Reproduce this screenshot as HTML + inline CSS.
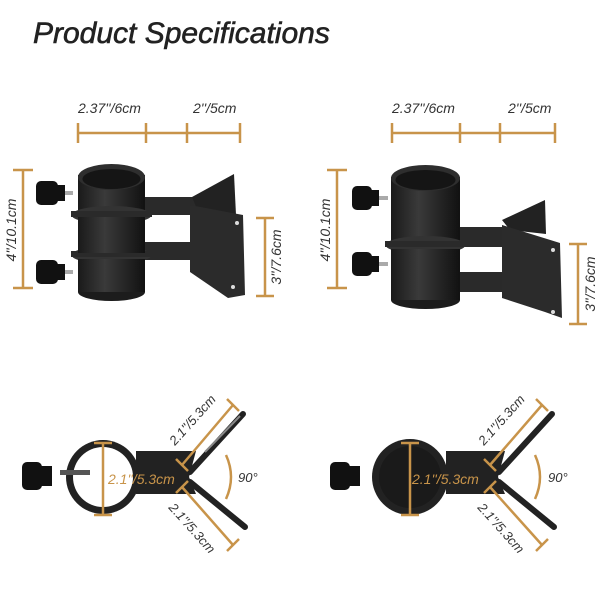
<!DOCTYPE html>
<html><head><meta charset="utf-8"><style>
html,body{margin:0;padding:0;background:#fff;width:600px;height:600px;overflow:hidden}
svg{display:block}
text{font-family:"Liberation Sans",sans-serif;font-style:italic}
</style></head><body>
<svg width="600" height="600" viewBox="0 0 600 600" xmlns="http://www.w3.org/2000/svg">
<defs>
<linearGradient id="cyl" x1="0" x2="1"><stop offset="0" stop-color="#1a1a1a"/><stop offset="0.4" stop-color="#3a3a3a"/><stop offset="1" stop-color="#111"/></linearGradient>
</defs>
<text x="33" y="43" font-size="30" fill="#222" stroke="#222" stroke-width="0.6">Product Specifications</text>

<!-- TOP LEFT -->
<g stroke="#c8944a" stroke-width="2.5" fill="none">
<line x1="78" y1="133" x2="240" y2="133"/>
<line x1="78" y1="123" x2="78" y2="143"/><line x1="146" y1="123" x2="146" y2="143"/>
<line x1="187" y1="123" x2="187" y2="143"/><line x1="240" y1="123" x2="240" y2="143"/>
<line x1="23" y1="170" x2="23" y2="288"/><line x1="13" y1="170" x2="33" y2="170"/><line x1="13" y1="288" x2="33" y2="288"/>
<line x1="265" y1="218" x2="265" y2="296"/><line x1="256" y1="218" x2="274" y2="218"/><line x1="256" y1="296" x2="274" y2="296"/>
</g>
<text x="78" y="113" font-size="14" fill="#333">2.37''/6cm</text>
<text x="193" y="113" font-size="14" fill="#333">2''/5cm</text>
<text transform="translate(16,230) rotate(-90)" text-anchor="middle" font-size="14" fill="#333">4''/10.1cm</text>
<text transform="translate(281,257) rotate(-90)" text-anchor="middle" font-size="14" fill="#333">3''/7.6cm</text>
<rect x="140" y="197" width="60" height="18" fill="#2a2a2a"/>
<rect x="140" y="242" width="60" height="18" fill="#2a2a2a"/>
<polygon points="192,197 234,174 236,215 205,228" fill="#222"/>
<polygon points="190,205 243,215 245,295 228,298 190,272" fill="#2b2b2b"/>
<circle cx="237" cy="223" r="2" fill="#ddd"/><circle cx="233" cy="287" r="2" fill="#ddd"/>
<rect x="78" y="175" width="67" height="117" fill="url(#cyl)"/>
<ellipse cx="111.5" cy="292" rx="33.5" ry="9" fill="#1c1c1c"/>
<ellipse cx="111.5" cy="215" rx="40" ry="9" fill="#333"/><rect x="71" y="211" width="81" height="6" fill="#2a2a2a"/>
<ellipse cx="111.5" cy="255" rx="40" ry="9" fill="#333"/><rect x="71" y="251" width="81" height="6" fill="#2a2a2a"/>
<rect x="78" y="217" width="67" height="36" fill="url(#cyl)"/><rect x="78" y="259" width="67" height="33" fill="url(#cyl)"/>
<ellipse cx="111.5" cy="177" rx="33.5" ry="13" fill="#2e2e2e"/>
<ellipse cx="111.5" cy="179" rx="29" ry="10" fill="#151515"/>
<g fill="#111"><rect x="36" y="181" width="22" height="24" rx="5"/><rect x="55" y="185" width="10" height="16"/>
<rect x="36" y="260" width="22" height="24" rx="5"/><rect x="55" y="264" width="10" height="16"/></g>
<rect x="65" y="191" width="8" height="4" fill="#aaa"/><rect x="65" y="270" width="8" height="4" fill="#aaa"/>

<!-- TOP RIGHT -->
<g stroke="#c8944a" stroke-width="2.5" fill="none">
<line x1="392" y1="133" x2="555" y2="133"/>
<line x1="392" y1="123" x2="392" y2="143"/><line x1="460" y1="123" x2="460" y2="143"/>
<line x1="500" y1="123" x2="500" y2="143"/><line x1="555" y1="123" x2="555" y2="143"/>
<line x1="337" y1="170" x2="337" y2="288"/><line x1="327" y1="170" x2="347" y2="170"/><line x1="327" y1="288" x2="347" y2="288"/>
<line x1="578" y1="244" x2="578" y2="324"/><line x1="569" y1="244" x2="587" y2="244"/><line x1="569" y1="324" x2="587" y2="324"/>
</g>
<text x="392" y="113" font-size="14" fill="#333">2.37''/6cm</text>
<text x="508" y="113" font-size="14" fill="#333">2''/5cm</text>
<text transform="translate(330,230) rotate(-90)" text-anchor="middle" font-size="14" fill="#333">4''/10.1cm</text>
<text transform="translate(595,284) rotate(-90)" text-anchor="middle" font-size="14" fill="#333">3''/7.6cm</text>
<rect x="455" y="227" width="52" height="20" fill="#2a2a2a"/>
<rect x="455" y="272" width="52" height="20" fill="#2a2a2a"/>
<polygon points="502,220 545,200 546,234 510,230" fill="#222"/>
<polygon points="502,225 560,243 562,318 545,312 502,298" fill="#2b2b2b"/>
<circle cx="553" cy="250" r="2" fill="#ddd"/><circle cx="553" cy="312" r="2" fill="#ddd"/>
<rect x="391" y="177" width="69" height="123" fill="url(#cyl)"/>
<ellipse cx="425.5" cy="300" rx="34.5" ry="9" fill="#1c1c1c"/>
<ellipse cx="425.5" cy="245" rx="40" ry="9" fill="#333"/><rect x="385" y="241" width="81" height="6" fill="#2a2a2a"/>
<rect x="391" y="249" width="69" height="51" fill="url(#cyl)"/>
<ellipse cx="425.5" cy="178" rx="34.5" ry="13" fill="#2e2e2e"/>
<ellipse cx="425.5" cy="180" rx="30" ry="10" fill="#151515"/>
<g fill="#111"><rect x="352" y="186" width="20" height="24" rx="5"/><rect x="369" y="190" width="10" height="16"/>
<rect x="352" y="252" width="20" height="24" rx="5"/><rect x="369" y="256" width="10" height="16"/></g>
<rect x="379" y="196" width="9" height="4" fill="#aaa"/><rect x="379" y="262" width="9" height="4" fill="#aaa"/>

<!-- BOTTOM LEFT -->
<polygon points="136,451 196,451 189,477 196,494 136,494" fill="#222"/>
<g stroke="#222" stroke-width="6" stroke-linecap="round">
<line x1="190" y1="472" x2="243" y2="414"/><line x1="190" y1="482" x2="245" y2="527"/></g>
<line x1="205" y1="452" x2="240" y2="416" stroke="#888" stroke-width="2"/>
<circle cx="103" cy="477" r="37" fill="#222"/>
<circle cx="103" cy="477" r="30" fill="#fff"/>
<rect x="60" y="470" width="30" height="5" fill="#555"/>
<rect x="22" y="462" width="20" height="28" rx="5" fill="#111"/><rect x="40" y="466" width="12" height="20" fill="#111"/>
<g stroke="#c8944a" stroke-width="2.5" fill="none">
<line x1="103" y1="443" x2="103" y2="515"/><line x1="94" y1="443" x2="112" y2="443"/><line x1="94" y1="515" x2="112" y2="515"/>
<line x1="182" y1="465" x2="233" y2="405"/><line x1="176" y1="459" x2="188" y2="471"/><line x1="227" y1="399" x2="239" y2="411"/>
<line x1="182" y1="487" x2="233" y2="545"/><line x1="176" y1="493" x2="188" y2="481"/><line x1="227" y1="551" x2="239" y2="539"/>
<path d="M226 455 Q236 477 226 499"/>
</g>
<text x="108" y="484" font-size="14" fill="#c8944a">2.1''/5.3cm</text>
<text x="238" y="482" font-size="13" fill="#333">90°</text>
<text transform="translate(175,446) rotate(-48)" font-size="13" fill="#333">2.1''/5.3cm</text>
<text transform="translate(168,508) rotate(48)" font-size="13" fill="#333">2.1''/5.3cm</text>

<!-- BOTTOM RIGHT -->
<polygon points="446,451 505,451 498,477 505,494 446,494" fill="#222"/>
<g stroke="#222" stroke-width="6" stroke-linecap="round">
<line x1="499" y1="472" x2="552" y2="414"/><line x1="499" y1="482" x2="554" y2="527"/></g>
<circle cx="410" cy="477" r="38" fill="#222"/>
<circle cx="410" cy="477" r="31" fill="#1a1a1a"/>
<rect x="330" y="462" width="20" height="28" rx="5" fill="#111"/><rect x="348" y="466" width="12" height="20" fill="#111"/>
<g stroke="#c8944a" stroke-width="2.5" fill="none">
<line x1="410" y1="443" x2="410" y2="515"/><line x1="401" y1="443" x2="419" y2="443"/><line x1="401" y1="515" x2="419" y2="515"/>
<line x1="490" y1="465" x2="542" y2="405"/><line x1="484" y1="459" x2="496" y2="471"/><line x1="536" y1="399" x2="548" y2="411"/>
<line x1="490" y1="487" x2="542" y2="545"/><line x1="484" y1="493" x2="496" y2="481"/><line x1="536" y1="551" x2="548" y2="539"/>
<path d="M535 455 Q545 477 535 499"/>
</g>
<text x="412" y="484" font-size="14" fill="#c8944a">2.1''/5.3cm</text>
<text x="548" y="482" font-size="13" fill="#333">90°</text>
<text transform="translate(484,446) rotate(-48)" font-size="13" fill="#333">2.1''/5.3cm</text>
<text transform="translate(477,508) rotate(48)" font-size="13" fill="#333">2.1''/5.3cm</text>
</svg>
</body></html>
